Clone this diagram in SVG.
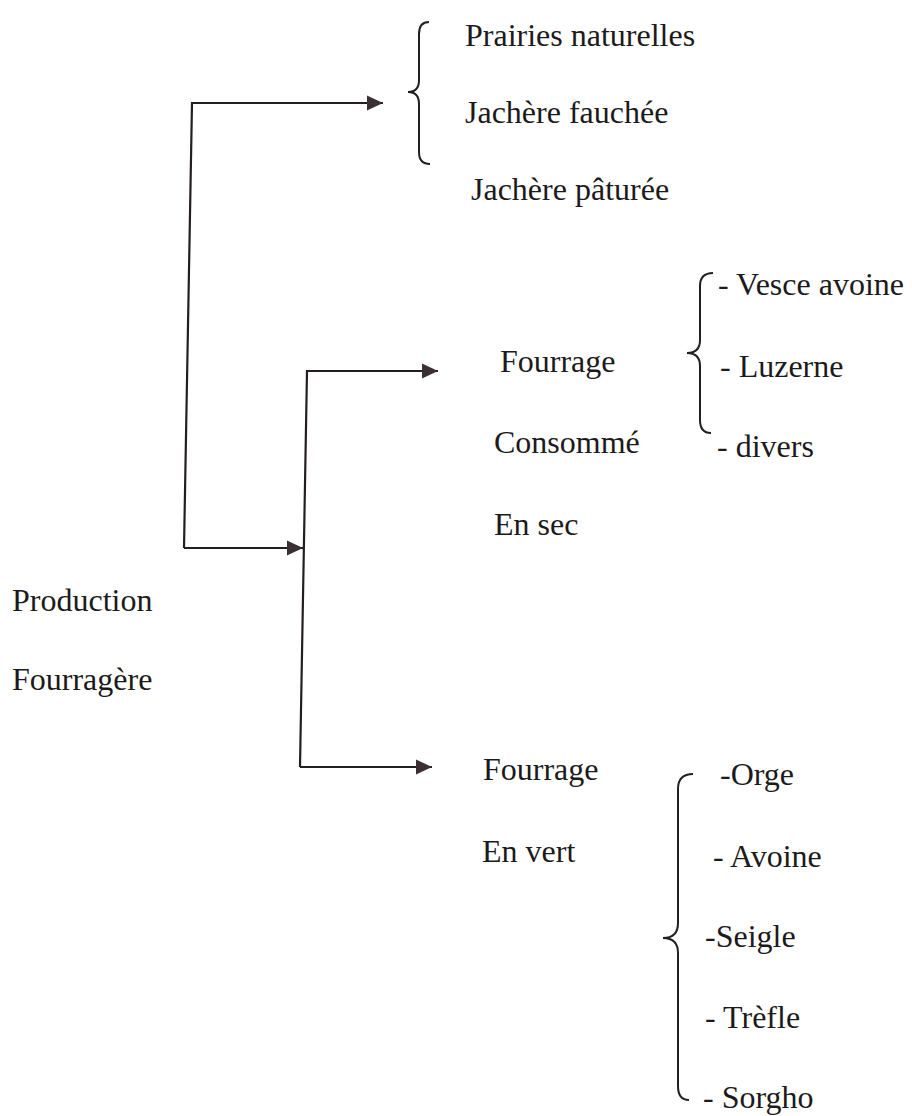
<svg xmlns="http://www.w3.org/2000/svg" width="912" height="1116" viewBox="0 0 912 1116">
<defs>
<style>
text{font-family:'Liberation Serif','Times New Roman',serif;font-size:32px;fill:#1c1a1b}
.conn{fill:none;stroke:#231f20;stroke-width:2.2;stroke-linejoin:miter}
.brace{fill:none;stroke:#231f20;stroke-width:2}
</style>
<marker id="arr" markerUnits="userSpaceOnUse" markerWidth="18" markerHeight="18" viewBox="0 0 18 18" refX="17" refY="9" orient="auto">
<path d="M1,1.5 L17,9 L1,16.5 Z" fill="#3a3033"/>
</marker>
</defs>
<rect width="912" height="1116" fill="#ffffff"/>
<g id="connectors">
<path class="conn" d="M184,548 L192,103 L383,103" marker-end="url(#arr)"/>
<path class="conn" d="M184,548 L303,548" marker-end="url(#arr)"/>
<path class="conn" d="M300,767 L307,371 L438,371" marker-end="url(#arr)"/>
<path class="conn" d="M300,767 L432,767" marker-end="url(#arr)"/>
</g>
<g id="root">
<text x="12" y="611">Production</text>
<text x="12" y="690">Fourragère</text>
</g>
<g id="group-top">
<path class="brace" d="M429,22 Q419,22 419,34 L419,80 Q419,92 408,92 Q419,92 419,104 L419,152 Q419,164 430,164"/>
<text x="465" y="46">Prairies naturelles</text>
<text x="465" y="123">Jachère fauchée</text>
<text x="471" y="200">Jachère pâturée</text>
</g>
<g id="sec">
<text x="500" y="372">Fourrage</text>
<text x="494" y="453">Consommé</text>
<text x="494" y="535">En sec</text>
</g>
<g id="sec-list">
<path class="brace" d="M713,273 Q700,273 700,286 L700,340 Q700,353 687,353 Q700,353 700,366 L700,420 Q700,433 711,433"/>
<text x="718" y="295">- Vesce avoine</text>
<text x="720" y="377">- Luzerne</text>
<text x="717" y="457">- divers</text>
</g>
<g id="vert">
<text x="483" y="780">Fourrage</text>
<text x="482" y="862">En vert</text>
</g>
<g id="vert-list">
<path class="brace" d="M693,774 Q678,774 678,789 L678,923 Q678,938 663,938 Q678,938 678,953 L678,1086 Q678,1100 689,1100"/>
<text x="720" y="785">-Orge</text>
<text x="713" y="867">- Avoine</text>
<text x="705" y="947">-Seigle</text>
<text x="705" y="1028">- Trèfle</text>
<text x="703" y="1108">- Sorgho</text>
</g>
</svg>
